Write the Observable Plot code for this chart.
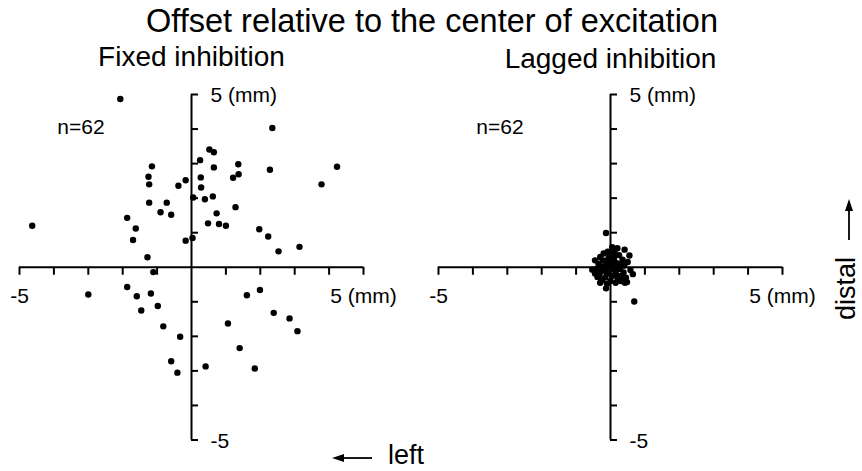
<!DOCTYPE html>
<html><head><meta charset="utf-8">
<script src="https://cdn.jsdelivr.net/npm/d3@7"></script>
<script src="https://cdn.jsdelivr.net/npm/@observablehq/plot@0.6"></script>
<style>
body{margin:0;background:#fff;}
#wrap{position:relative;width:862px;height:471px;overflow:hidden;background:#fff;font-family:"Liberation Sans",Arial,Helvetica,sans-serif;}
#wrap svg{position:absolute;left:0;top:0;}
</style></head><body>
<div id="wrap"></div>
<script>
const mainTitle = "Offset relative to the center of excitation";
const panels = ["Fixed inhibition", "Lagged inhibition"];
const countLabel = "n=62";
const xTicks = [-5, -4, -3, -2, -1, 1, 2, 3, 4, 5];
const yTicks = [-5, -4, -3, -2, -1, 1, 2, 3, 4, 5];
const xTickLabels = ["-5", "5 (mm)"];
const xTickLabelValues = [-5, 5];
const yTickLabels = ["5 (mm)", "-5"];
const yTickLabelValues = [5, -5];
const directionY = "distal";
const directionX = "left";

// Fixed inhibition offsets (mm)
const fixedX = [-2.07,-4.63,-1.15,-1.25,-1.23,-0.17,-0.38,-1.23,-0.72,-0.90,-0.59,-1.87,-1.62,-1.70,-0.17,-1.28,
  0.52,0.65,0.25,1.36,0.65,2.35,2.28,4.23,3.78,1.21,1.37,0.27,0.28,0.39,0.62,0.05,1.28,0.73,0.48,0.80,1.00,1.97,2.23,2.53,3.14,0.03,
  -1.11,-3.00,-1.87,-1.59,-1.18,-1.46,-0.98,-0.82,-0.33,-0.59,-0.41,
  0.41,1.06,1.40,1.61,1.99,1.84,2.39,2.85,3.08];
const fixedY = [4.87,1.20,2.92,2.62,2.40,2.52,2.36,1.87,1.87,1.59,1.52,1.43,1.12,0.79,0.77,0.29,
  3.41,3.33,3.10,2.98,2.89,4.03,2.82,2.91,2.40,2.59,2.69,2.60,2.31,1.97,2.05,2.02,1.74,1.56,1.27,1.25,1.20,1.10,0.89,0.46,0.59,0.85,
  -0.14,-0.79,-0.57,-0.84,-0.76,-1.25,-1.12,-1.71,-2.01,-2.72,-3.05,
  -2.87,-1.63,-2.34,-0.81,-0.66,-2.93,-1.32,-1.48,-1.85];

// Lagged inhibition offsets (mm)
const laggedX = [-0.13,0.41,0.55,-0.53,0.65,0.48,-0.13,0.69,-0.32,0.12,-0.22,0.21,0.31,0.05,-0.05,0.25,-0.35,-0.40,-0.28,-0.18,
  -0.10,0.00,0.10,0.18,0.28,0.38,0.15,0.05,-0.05,-0.15,-0.25,0.30,0.40,0.50,0.45,-0.08,0.20,-0.30,-0.45,-0.20,
  0.08,-0.02,0.12,-0.12,0.22,0.35,-0.38,0.00,0.15,-0.10,0.58,0.25,-0.25,-0.05,0.10,0.32,-0.30,0.42,-0.45,0.05,-0.15,0.18];
const laggedY = [0.99,0.51,0.34,-0.07,-0.20,-0.43,-0.61,-0.99,-0.24,0.45,0.20,-0.34,0.10,0.40,0.30,0.35,0.10,-0.05,-0.12,-0.05,
  0.05,0.15,0.22,0.12,-0.05,-0.15,-0.15,-0.25,-0.18,-0.30,-0.38,-0.40,0.05,0.15,-0.30,0.45,0.55,0.30,0.20,0.40,
  -0.05,0.00,0.05,-0.15,-0.25,0.22,-0.28,-0.40,-0.45,-0.48,-0.08,0.02,0.02,0.12,0.32,-0.25,-0.45,-0.45,-0.18,0.58,0.18,-0.02];

const points = fixedX.map((x, i) => ({panel: panels[0], x, y: fixedY[i]}))
  .concat(laggedX.map((x, i) => ({panel: panels[1], x, y: laggedY[i]})));
const xTickData = panels.flatMap(p => xTicks.map(v => ({panel: p, v})));
const yTickData = panels.flatMap(p => yTicks.map(v => ({panel: p, v})));
const xLabelData = panels.flatMap(p => xTickLabels.map((label, i) => ({panel: p, v: xTickLabelValues[i], label})));
const yLabelData = panels.flatMap(p => yTickLabels.map((label, i) => ({panel: p, v: yTickLabelValues[i], label})));
const nData = panels.map(p => ({panel: p, label: countLabel}));

const chart = Plot.plot({
  width: 862, height: 471,
  marginLeft: 19, marginRight: 79, marginTop: 94, marginBottom: 31.5,
  x: {domain: [-5, 5], axis: null},
  y: {domain: [-5, 5], axis: null},
  fx: {domain: panels, axis: null, paddingInner: 0.1788, paddingOuter: 0},
  style: {fontFamily: "'Liberation Sans', Arial, Helvetica, sans-serif", fontSize: "21px", background: "transparent", color: "black", overflow: "visible"},
  marks: [
    Plot.ruleY(panels, {fx: d => d, y: 0, x1: -5, x2: 5, stroke: "black", strokeWidth: 2}),
    Plot.ruleX(panels, {fx: d => d, x: 0, y1: -5, y2: 5, stroke: "black", strokeWidth: 2}),
    Plot.ruleX(xTickData, {fx: "panel", x: "v", y1: 0, y2: 0, insetBottom: -8, stroke: "black", strokeWidth: 2}),
    Plot.ruleY(yTickData, {fx: "panel", y: "v", x1: 0, x2: 0, insetRight: -7, stroke: "black", strokeWidth: 2}),
    Plot.dot(points, {fx: "panel", x: "x", y: "y", r: 3.2, fill: "black"}),
    Plot.text(xLabelData, {fx: "panel", x: "v", y: 0, text: "label", dy: 29.5, lineAnchor: "middle", fill: "black"}),
    Plot.text(yLabelData, {fx: "panel", x: 0, y: "v", text: "label", dx: 19, dy: 1, textAnchor: "start", lineAnchor: "middle", fill: "black"}),
    Plot.text(nData, {fx: "panel", x: -3.9, y: 4.04, text: "label", textAnchor: "start", lineAnchor: "middle", fill: "black"}),
    Plot.text([panels[0]], {fx: d => d, x: 0, y: 5, text: d => d, dy: -29, lineAnchor: "bottom", fontSize: 28, fill: "black"}),
    Plot.text([panels[1]], {fx: d => d, x: 0, y: 5, text: d => d, dy: -27, lineAnchor: "bottom", fontSize: 28, fill: "black"})
  ]
});
const wrap = document.getElementById("wrap");
wrap.appendChild(chart);

const ann = d3.select(wrap).append("svg").attr("width", 862).attr("height", 471)
  .attr("font-family", "'Liberation Sans', Arial, Helvetica, sans-serif").style("pointer-events", "none");
ann.append("text").attr("x", 432).attr("y", 32).attr("text-anchor", "middle").attr("font-size", 32.5).text(mainTitle);
// distal arrow + label
ann.append("text").attr("font-size", 27)
  .attr("transform", "translate(855,320) rotate(-90)").text(directionY);
ann.append("line").attr("x1", 849).attr("x2", 849).attr("y1", 240).attr("y2", 209).attr("stroke", "black").attr("stroke-width", 1.8);
ann.append("path").attr("d", "M849,199L845,211L853,211Z").attr("fill", "black");
// left arrow + label
ann.append("line").attr("x1", 372).attr("x2", 342).attr("y1", 458).attr("y2", 458).attr("stroke", "black").attr("stroke-width", 1.8);
ann.append("path").attr("d", "M332,458L344,454L344,462Z").attr("fill", "black");
ann.append("text").attr("x", 388).attr("y", 464).attr("font-size", 27).text(directionX);
</script>
</body></html>
